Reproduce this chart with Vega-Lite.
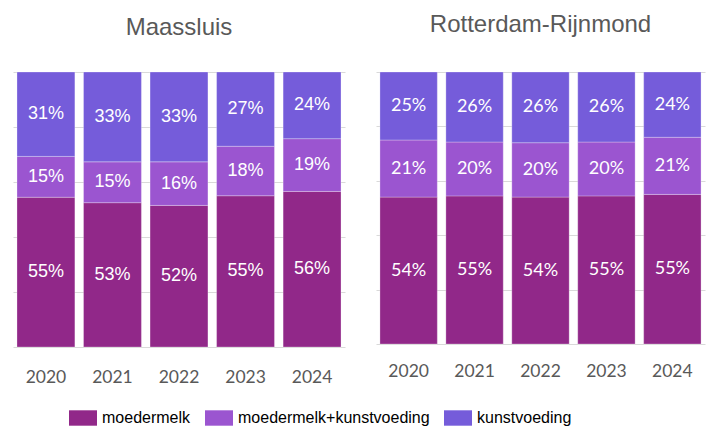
{
  "$schema": "https://vega.github.io/schema/vega-lite/v6.json",
  "padding": {"left": 13, "top": 12, "right": 5, "bottom": 5},
  "background": "white",
  "bounds": "flush",
  "spacing": 31,
  "config": {
    "view": {"stroke": null},
    "title": {"font": "Liberation Sans", "fontSize": 24, "fontWeight": "normal", "color": "#595959"}
  },
  "resolve": {"scale": {"color": "independent"}, "legend": {"color": "independent"}},
  "datasets": {
    "d": [
      {"regio": "Maassluis", "jaar": "2020", "type": "moedermelk", "o": 1, "pct": 55},
      {"regio": "Maassluis", "jaar": "2020", "type": "moedermelk+kunstvoeding", "o": 2, "pct": 15},
      {"regio": "Maassluis", "jaar": "2020", "type": "kunstvoeding", "o": 3, "pct": 31},
      {"regio": "Maassluis", "jaar": "2021", "type": "moedermelk", "o": 1, "pct": 53},
      {"regio": "Maassluis", "jaar": "2021", "type": "moedermelk+kunstvoeding", "o": 2, "pct": 15},
      {"regio": "Maassluis", "jaar": "2021", "type": "kunstvoeding", "o": 3, "pct": 33},
      {"regio": "Maassluis", "jaar": "2022", "type": "moedermelk", "o": 1, "pct": 52},
      {"regio": "Maassluis", "jaar": "2022", "type": "moedermelk+kunstvoeding", "o": 2, "pct": 16},
      {"regio": "Maassluis", "jaar": "2022", "type": "kunstvoeding", "o": 3, "pct": 33},
      {"regio": "Maassluis", "jaar": "2023", "type": "moedermelk", "o": 1, "pct": 55},
      {"regio": "Maassluis", "jaar": "2023", "type": "moedermelk+kunstvoeding", "o": 2, "pct": 18},
      {"regio": "Maassluis", "jaar": "2023", "type": "kunstvoeding", "o": 3, "pct": 27},
      {"regio": "Maassluis", "jaar": "2024", "type": "moedermelk", "o": 1, "pct": 56},
      {"regio": "Maassluis", "jaar": "2024", "type": "moedermelk+kunstvoeding", "o": 2, "pct": 19},
      {"regio": "Maassluis", "jaar": "2024", "type": "kunstvoeding", "o": 3, "pct": 24},
      {"regio": "Rotterdam-Rijnmond", "jaar": "2020", "type": "moedermelk", "o": 1, "pct": 54},
      {"regio": "Rotterdam-Rijnmond", "jaar": "2020", "type": "moedermelk+kunstvoeding", "o": 2, "pct": 21},
      {"regio": "Rotterdam-Rijnmond", "jaar": "2020", "type": "kunstvoeding", "o": 3, "pct": 25},
      {"regio": "Rotterdam-Rijnmond", "jaar": "2021", "type": "moedermelk", "o": 1, "pct": 55},
      {"regio": "Rotterdam-Rijnmond", "jaar": "2021", "type": "moedermelk+kunstvoeding", "o": 2, "pct": 20},
      {"regio": "Rotterdam-Rijnmond", "jaar": "2021", "type": "kunstvoeding", "o": 3, "pct": 26},
      {"regio": "Rotterdam-Rijnmond", "jaar": "2022", "type": "moedermelk", "o": 1, "pct": 54},
      {"regio": "Rotterdam-Rijnmond", "jaar": "2022", "type": "moedermelk+kunstvoeding", "o": 2, "pct": 20},
      {"regio": "Rotterdam-Rijnmond", "jaar": "2022", "type": "kunstvoeding", "o": 3, "pct": 26},
      {"regio": "Rotterdam-Rijnmond", "jaar": "2023", "type": "moedermelk", "o": 1, "pct": 55},
      {"regio": "Rotterdam-Rijnmond", "jaar": "2023", "type": "moedermelk+kunstvoeding", "o": 2, "pct": 20},
      {"regio": "Rotterdam-Rijnmond", "jaar": "2023", "type": "kunstvoeding", "o": 3, "pct": 26},
      {"regio": "Rotterdam-Rijnmond", "jaar": "2024", "type": "moedermelk", "o": 1, "pct": 55},
      {"regio": "Rotterdam-Rijnmond", "jaar": "2024", "type": "moedermelk+kunstvoeding", "o": 2, "pct": 21},
      {"regio": "Rotterdam-Rijnmond", "jaar": "2024", "type": "kunstvoeding", "o": 3, "pct": 24}
    ]
  },
  "hconcat": [
    {
      "title": {"text": "Maassluis", "offset": 32},
      "width": 332,
      "height": 275,
      "data": {"name": "d"},
      "transform": [
        {"filter": "datum.regio === 'Maassluis'"},
        {"stack": "pct", "groupby": ["jaar"], "sort": [{"field": "o"}], "offset": "normalize", "as": ["y0", "y1"]},
        {"calculate": "(datum.y0 + datum.y1) / 2", "as": "ym"},
        {"calculate": "datum.pct + '%'", "as": "lab"}
      ],
      "encoding": {
        "x": {"field": "jaar", "type": "nominal", "title": null,
          "scale": {"paddingInner": 0.13, "paddingOuter": 0.06},
          "axis": {"labelAngle": 0, "domain": false, "ticks": false, "labelPadding": 21, "labelFont": "Lato", "labelFontSize": 17.5, "labelColor": "#595959"}}
      },
      "layer": [
        {
          "mark": {"type": "bar", "stroke": "#ffffff", "strokeOpacity": 0.35, "strokeWidth": 0.8},
          "encoding": {
            "y": {"field": "y0", "type": "quantitative", "scale": {"domain": [0, 1]},
              "axis": {"title": null, "labels": false, "ticks": false, "domain": false, "tickCount": 5, "grid": true, "gridColor": "#D9D9D9", "gridWidth": 1.2}},
            "y2": {"field": "y1"},
            "color": {"field": "type", "type": "nominal",
              "scale": {"domain": ["moedermelk", "moedermelk+kunstvoeding", "kunstvoeding"], "range": ["#912889", "#9B55D0", "#755CDA"]},
              "legend": {"title": null, "orient": "none", "legendX": 56, "legendY": 332, "direction": "horizontal", "symbolType": "M-1,-0.55H1V0.55H-1Z", "symbolSize": 784, "symbolStrokeWidth": 0, "labelFont": "Liberation Sans", "labelFontSize": 16, "labelColor": "#000000", "labelOffset": 5, "labelLimit": 0, "columnPadding": 14}}
          }
        },
        {
          "mark": {"type": "text", "color": "white", "font": "Liberation Sans", "fontSize": 18},
          "encoding": {
            "y": {"field": "ym", "type": "quantitative"},
            "text": {"field": "lab"}
          }
        }
      ]
    },
    {
      "title": {"text": "Rotterdam-Rijnmond", "offset": 35},
      "width": 329,
      "height": 272,
      "data": {"name": "d"},
      "transform": [
        {"filter": "datum.regio === 'Rotterdam-Rijnmond'"},
        {"stack": "pct", "groupby": ["jaar"], "sort": [{"field": "o"}], "offset": "normalize", "as": ["y0", "y1"]},
        {"calculate": "(datum.y0 + datum.y1) / 2", "as": "ym"},
        {"calculate": "datum.pct + '%'", "as": "lab"}
      ],
      "encoding": {
        "x": {"field": "jaar", "type": "nominal", "title": null,
          "scale": {"paddingInner": 0.13, "paddingOuter": 0.06},
          "axis": {"labelAngle": 0, "domain": false, "ticks": false, "labelPadding": 18, "labelFont": "Lato", "labelFontSize": 17.5, "labelColor": "#595959"}}
      },
      "layer": [
        {
          "mark": {"type": "bar", "stroke": "#ffffff", "strokeOpacity": 0.35, "strokeWidth": 0.8},
          "encoding": {
            "y": {"field": "y0", "type": "quantitative", "scale": {"domain": [0, 1]},
              "axis": {"title": null, "labels": false, "ticks": false, "domain": false, "tickCount": 5, "grid": true, "gridColor": "#D9D9D9", "gridWidth": 1.2}},
            "y2": {"field": "y1"},
            "color": {"field": "type", "type": "nominal",
              "scale": {"domain": ["moedermelk", "moedermelk+kunstvoeding", "kunstvoeding"], "range": ["#912889", "#9B55D0", "#755CDA"]},
              "legend": null}
          }
        },
        {
          "mark": {"type": "text", "color": "white", "font": "Lato", "fontSize": 18},
          "encoding": {
            "y": {"field": "ym", "type": "quantitative"},
            "text": {"field": "lab"}
          }
        }
      ]
    }
  ]
}
